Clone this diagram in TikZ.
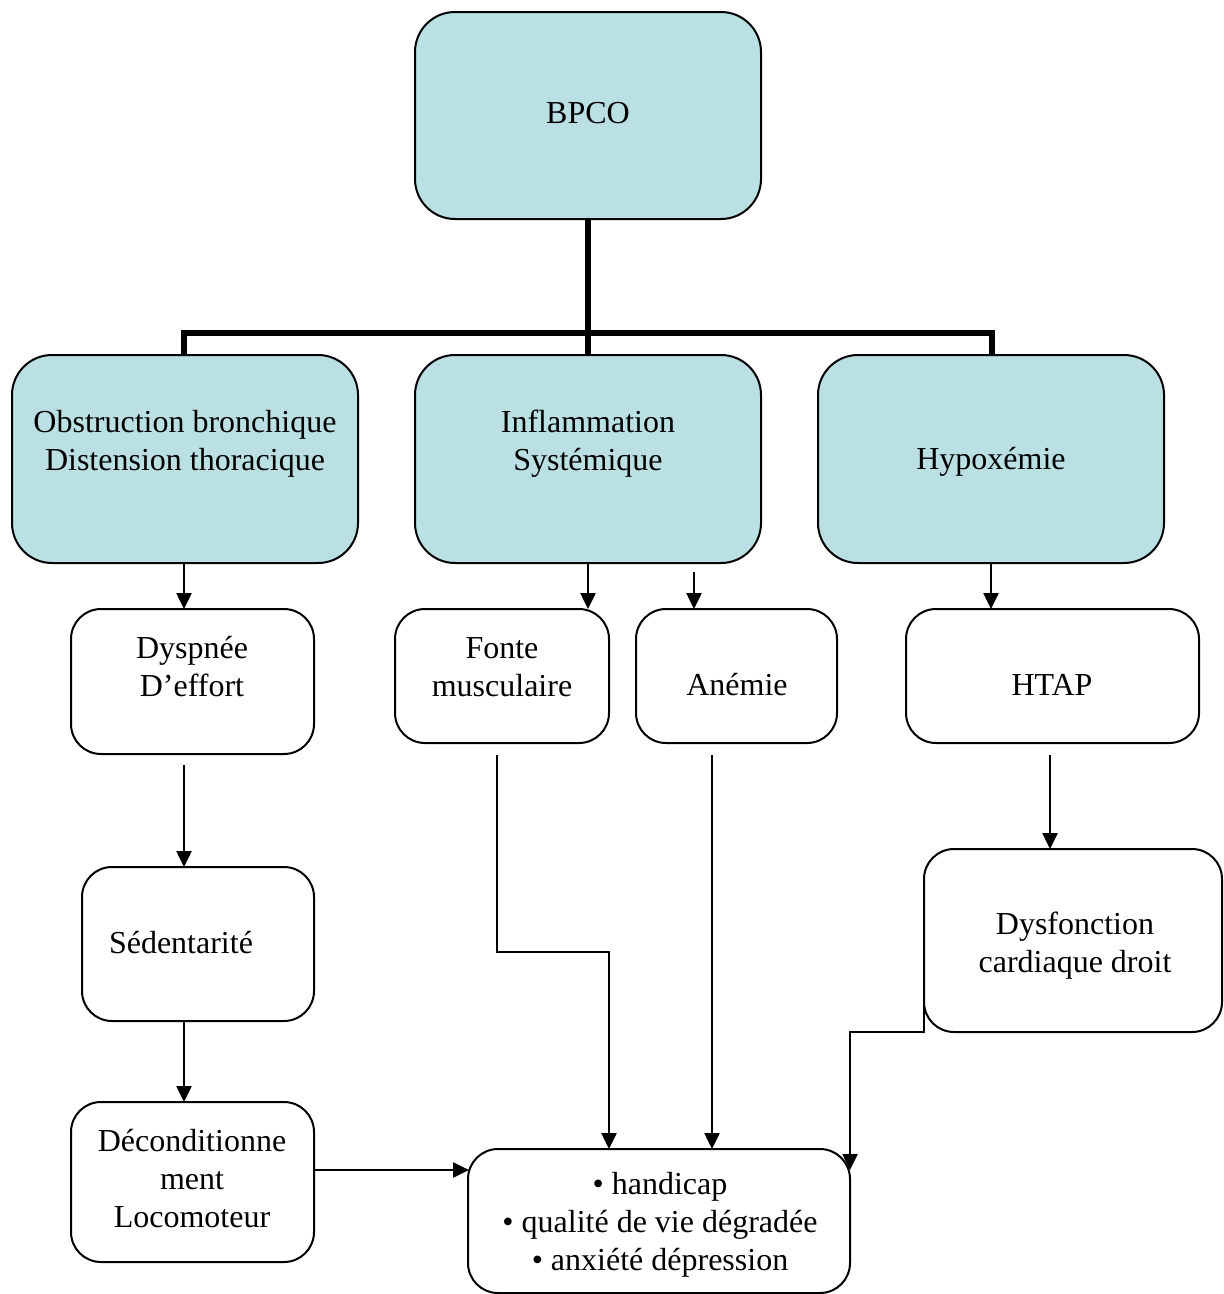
\documentclass[tikz,border=0pt]{standalone}
\usepackage{fontspec}
\setmainfont{Liberation Serif}
\usetikzlibrary{arrows.meta}
\definecolor{boxblue}{HTML}{BAE0E3}
\tikzset{
  bigbox/.style={draw=black, line width=2pt, rounded corners=40pt, fill=boxblue},
  smallbox/.style={draw=black, line width=2pt, rounded corners=30pt, fill=white},
  lbl/.style={font=\fontsize{32}{38}\selectfont, align=center, inner sep=0pt},
  trunk/.style={line width=6pt},
  link/.style={line width=2.5pt, -{Triangle[length=16pt,width=15pt]}},
}
\begin{document}
\begin{tikzpicture}[x=1pt,y=-1pt]
\useasboundingbox (0,0) rectangle (1224,1294);
\clip (0,0) rectangle (1224,1294);
\fill[white] (0,0) rectangle (1224,1294);

% top level
\draw[bigbox] (415,12) rectangle (761,219);
\coordinate (bpco) at (588,219);
\node[lbl] (tBpco) at (588,113) {BPCO};

% three causes
\draw[bigbox] (12,355) rectangle (358,563);
\draw[bigbox] (415,355) rectangle (761,563);
\draw[bigbox] (818,355) rectangle (1164,563);
\node[lbl] (tObs) at (185,444) {Obstruction bronchique\\Distension thoracique};
\node[lbl] (tInf) at (588,444) {Inflammation\\Systémique};
\node[lbl] (tHyp) at (991,462) {Hypoxémie};

% thick tree
\coordinate (jl) at (184,333);
\coordinate (jr) at (992,333);
\coordinate (obsTop) at (184,355);
\coordinate (infTop) at (588,355);
\coordinate (hypTop) at (992,355);
\draw[trunk] (bpco) -- (infTop);
\draw[trunk, line cap=butt] (obsTop) -- (jl) -- (jr) -- (hypTop);

% consequences, second row
\draw[smallbox] (71,609) rectangle (314,754);
\node[lbl] (tDys) at (192,667) {Dyspnée\\D’effort};
\draw[smallbox] (395,609) rectangle (609,743);
\node[lbl] (tFon) at (502,667) {Fonte\\musculaire};
\draw[smallbox] (636,609) rectangle (837,743);
\node[lbl] (tAne) at (737,685) {Anémie};
\draw[smallbox] (906,609) rectangle (1199,743);
\node[lbl] (tHta) at (1052,685) {HTAP};

% third row
\draw[smallbox] (82,867) rectangle (314,1021);
\node[lbl] (tSed) at (181,943) {Sédentarité};
\draw[smallbox] (924,849) rectangle (1222,1032);
\node[lbl] (tDcd) at (1075,946) {Dysfonction\\cardiaque droit};

% fourth row
\draw[smallbox] (71,1102) rectangle (314,1262);
\node[lbl] (tDec) at (192,1179) {Déconditionne\\ment\\Locomoteur};
\draw[smallbox] (468,1149) rectangle (850,1293);
\node[lbl] (tOut) at (660,1225) {• handicap\\• qualité de vie dégradée\\• anxiété dépression};

% connector end points
\coordinate (obsB) at (184,563);
\coordinate (dysT) at (184,609);
\coordinate (infB) at (588,563);
\coordinate (fonT) at (588,609);
\coordinate (aneS) at (694,572);
\coordinate (aneT) at (694,609);
\coordinate (hypB) at (991,563);
\coordinate (htaT) at (991,609);
\coordinate (dysS) at (184,765);
\coordinate (sedT) at (184,867);
\coordinate (sedB) at (184,1021);
\coordinate (decT) at (184,1102);
\coordinate (decR) at (314,1170);
\coordinate (outL) at (469,1170);
\coordinate (fonS) at (497,755);
\coordinate (fonK) at (497,952);
\coordinate (fonK2) at (609,952);
\coordinate (outT1) at (609,1149);
\coordinate (aneB) at (712,755);
\coordinate (outT2) at (712,1149);
\coordinate (htaS) at (1050,755);
\coordinate (dcdT) at (1050,849);
\coordinate (dcdL) at (924,893);
\coordinate (dcdK) at (924,1032);
\coordinate (dcdK2) at (850,1032);
\coordinate (outR) at (850,1170);

\draw[link] (obsB) -- (dysT);
\draw[link] (infB) -- (fonT);
\draw[link] (aneS) -- (aneT);
\draw[link] (hypB) -- (htaT);
\draw[link] (dysS) -- (sedT);
\draw[link] (sedB) -- (decT);
\draw[link] (decR) -- (outL);
\draw[link] (fonS) -- (fonK) -- (fonK2) -- (outT1);
\draw[link] (aneB) -- (outT2);
\draw[link] (htaS) -- (dcdT);
\draw[link] (dcdL) -- (dcdK) -- (dcdK2) -- (outR);
\end{tikzpicture}
\end{document}
